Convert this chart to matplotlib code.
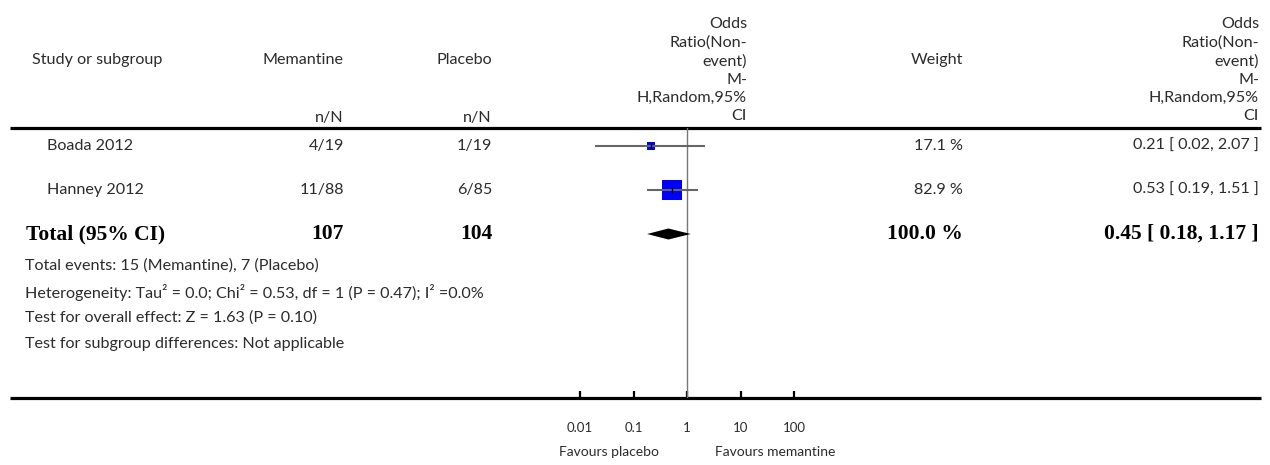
import numpy as np
import matplotlib.pyplot as plt

plt.rcParams['font.family'] = ['Lato', 'DejaVu Sans']

# data
studies = ['Boada 2012', 'Hanney 2012']
mem_nN = ['4/19', '11/88']
pla_nN = ['1/19', '6/85']
odds = [0.21, 0.53]
ci_low = [0.02, 0.19]
ci_high = [2.07, 1.51]
weights = [17.1, 82.9]
tot_mem = 107
tot_pla = 104
tot_or = 0.45
tot_low = 0.18
tot_high = 1.17
ev_mem = 15
ev_pla = 7
ticks = [0.01, 0.1, 1, 10, 100]
tick_labels = ['0.01', '0.1', '1', '10', '100']

W, H = 1270, 465
fig = plt.figure(figsize=(W / 100, H / 100), dpi=100)

# text layer in pixel units
ax = fig.add_axes([0, 0, 1, 1])
ax.set_xlim(0, W)
ax.set_ylim(H, 0)
ax.axis('off')

fs = 11.6
col = '#2b2b2b'
txt = dict(fontsize=fs, color=col, va='center')
bold = dict(fontsize=15.5, color='black', va='center', family='Liberation Serif', weight='bold')

line_top, line_bot = 128, 398
x_one = 687
dec = 53.5  # px per decade
fx0, fx1 = 570, 810

or_head = 'Odds\nRatio(Non-\nevent)\nM-\nH,Random,95%\nCI'

# headers
ax.text(32, 60, 'Study or subgroup', ha='left', **txt)
ax.text(344, 60, 'Memantine', ha='right', **txt)
ax.text(492, 60, 'Placebo', ha='right', **txt)
ax.text(344, 118, 'n/N', ha='right', **txt)
ax.text(492, 118, 'n/N', ha='right', **txt)
ax.text(747, 120, or_head, ha='right', multialignment='right', linespacing=1.38,
        fontsize=fs, color=col, va='baseline')
ax.text(937, 60, 'Weight', ha='center', **txt)
ax.text(1259, 120, or_head, ha='right', multialignment='right', linespacing=1.38,
        fontsize=fs, color=col, va='baseline')

ax.plot([10, 1261], [line_top, line_top], color='black', lw=2.3, solid_capstyle='butt')
ax.plot([10, 1261], [line_bot, line_bot], color='black', lw=2.3, solid_capstyle='butt')

rows = [146, 190]
for i, y in enumerate(rows):
    ax.text(47, y, studies[i], ha='left', **txt)
    ax.text(344, y, mem_nN[i], ha='right', **txt)
    ax.text(492, y, pla_nN[i], ha='right', **txt)
    ax.text(963, y, '%.1f %%' % weights[i], ha='right', **txt)
    ax.text(1259, y, '%.2f [ %.2f, %.2f ]' % (odds[i], ci_low[i], ci_high[i]), ha='right', **txt)

y_tot = 234
ax.text(26, y_tot, 'Total (95% CI)', ha='left', **bold)
ax.text(344, y_tot, str(tot_mem), ha='right', **bold)
ax.text(492, y_tot, str(tot_pla), ha='right', **bold)
ax.text(963, y_tot, '%.1f %%' % sum(weights), ha='right', **bold)
ax.text(1259, y_tot, '%.2f [ %.2f, %.2f ]' % (tot_or, tot_low, tot_high), ha='right', **bold)

notes = ['Total events: %d (Memantine), %d (Placebo)' % (ev_mem, ev_pla),
         'Heterogeneity: Tau² = 0.0; Chi² = 0.53, df = 1 (P = 0.47); I² =0.0%',
         'Test for overall effect: Z = 1.63 (P = 0.10)',
         'Test for subgroup differences: Not applicable']
for k, s in enumerate(notes):
    ax.text(25, 266 + 26 * k, s, ha='left', fontsize=fs, color=col, va='center')

ax.text(609, 452, 'Favours placebo', ha='center', fontsize=10, color=col, va='center')
ax.text(775, 452, 'Favours memantine', ha='center', fontsize=10, color=col, va='center')

# forest panel
fax = fig.add_axes([fx0 / W, (H - line_bot) / H, (fx1 - fx0) / W, (line_bot - line_top) / H])
fax.set_xscale('log')
fax.set_xlim(10 ** ((fx0 - x_one) / dec), 10 ** ((fx1 - x_one) / dec))
fax.set_ylim(line_bot, line_top)
fax.patch.set_alpha(0)
for sp in fax.spines.values():
    sp.set_visible(False)
fax.set_yticks([])
fax.set_xticks(ticks, tick_labels)
fax.minorticks_off()
fax.tick_params(axis='x', direction='in', length=5, width=1.6, color='black',
                pad=17, labelsize=9.5, labelcolor=col)

fax.axvline(1, color='#777777', lw=1)

for i, y in enumerate(rows):
    fax.plot(odds[i], y, marker='s', color='#0000ff', markeredgewidth=0,
             markersize=1.53 * np.sqrt(weights[i]), zorder=3)
    fax.plot([ci_low[i], ci_high[i]], [y, y], color='#666666', lw=1.5, zorder=4)
    fax.plot(odds[i], y, marker='|', color='black', markersize=4, markeredgewidth=1, zorder=5)

fax.fill([tot_low, tot_or, tot_high, tot_or], [y_tot, y_tot - 5.5, y_tot, y_tot + 5.5],
         color='black', lw=0, zorder=3)

fig.savefig('out.png', dpi=100)
